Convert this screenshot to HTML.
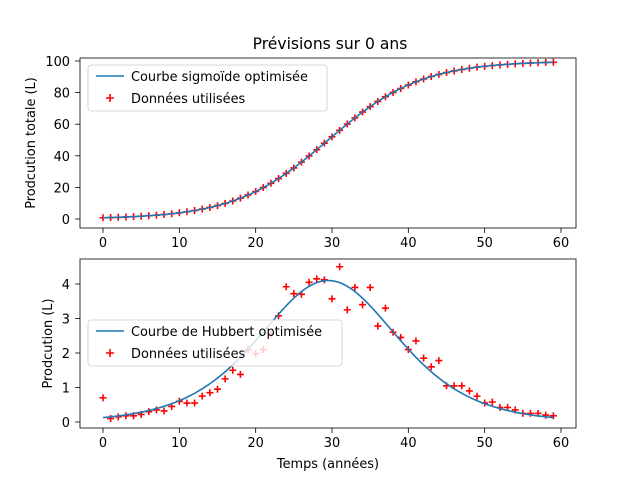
<!DOCTYPE html>
<html><head><meta charset="utf-8"><style>
body{margin:0;background:#fff;font-family:"Liberation Sans","DejaVu Sans",sans-serif}
svg text{font-family:"DejaVu Sans","Liberation Sans",sans-serif;fill:#000}
</style></head><body>
<svg id="c" width="640" height="480" xmlns="http://www.w3.org/2000/svg"></svg>
<script>
const years=[...Array(60).keys()];
const cumData=[0.79,0.93,1.09,1.28,1.5,1.77,2.08,2.44,2.86,3.35,3.92,4.59,5.36,6.26,7.3,8.49,9.85,11.4,13.2,15.2,17.4,19.9,22.6,25.6,28.9,32.3,36,39.9,43.9,48,52,56.1,60.1,64,67.7,71.1,74.4,77.4,80.1,82.6,84.8,86.8,88.6,90.2,91.5,92.7,93.7,94.6,95.4,96.1,96.6,97.1,97.5,97.9,98.2,98.5,98.7,98.9,99.1,99.2];
const prodData=[0.7,0.1,0.15,0.18,0.18,0.22,0.3,0.35,0.32,0.45,0.6,0.55,0.55,0.75,0.85,0.95,1.25,1.5,1.38,2.1,1.98,2.1,2.55,3.08,3.92,3.72,3.7,4.05,4.15,4.12,3.57,4.5,3.25,3.9,3.4,3.9,2.78,3.3,2.6,2.45,2.1,2.35,1.85,1.6,1.78,1.05,1.05,1.05,0.9,0.75,0.55,0.58,0.42,0.42,0.35,0.25,0.25,0.25,0.2,0.18];
const fitQ=[100], fitK=[0.164], fitT0=[29.5];
const xTicks=[0,10,20,30,40,50,60];
const yTicksTop=[0,20,40,60,80,100];
const yTicksBot=[0,1,2,3,4];
const svg=document.getElementById('c');
const NS='http://www.w3.org/2000/svg';
const FS=13.9;
function mk(t,a,p){const e=document.createElementNS(NS,t);for(const k in a)e.setAttribute(k,a[k]);(p||svg).appendChild(e);return e;}
const X=v=>103+(v/60)*458;
const Ytop=v=>219-v*1.58;
const Ybot=v=>422-v*34.5;
const sig=t=>fitQ[0]/(1+Math.exp(-fitK[0]*(t-fitT0[0])));
const hub=t=>{const e=Math.exp(-fitK[0]*(t-fitT0[0]));return fitQ[0]*fitK[0]*e/((1+e)*(1+e));};
function panel(name,top,bot,Y,yt,f,data,ylab,legLab,leg){
  const g=mk('g',{});
  
  
  mk('rect',{x:80,y:top,width:496,height:bot-top,fill:'#fff',stroke:'none'},g);
  data.forEach((v,i)=>{const x=X(years[i]),y=Y(v);
    const p=mk('path',{d:`M${x-3.5} ${y}H${x+3.5}M${x} ${y-3.5}V${y+3.5}`,stroke:'#f00','stroke-width':1.6},g);
    
    });
  let d='';for(let t=0;t<=59;t+=0.25)d+=(t?'L':'M')+X(t).toFixed(2)+' '+Y(f(t)).toFixed(2);
  const ln=mk('path',{d:d,fill:'none',stroke:'#1f77b4','stroke-width':1.6},g);
  
  
  mk('rect',{x:80,y:top,width:496,height:bot-top,fill:'none',stroke:'#000','stroke-width':0.8},g);
  xTicks.forEach(v=>{mk('line',{x1:X(v),x2:X(v),y1:bot,y2:bot+4.9,stroke:'#000','stroke-width':0.8},g);
    const t=mk('text',{x:X(v),y:bot+19,'font-size':FS*0.93,'text-anchor':'middle'},g);t.textContent=v;
    });
  yt.forEach(v=>{mk('line',{x1:75.1,x2:80,y1:Y(v),y2:Y(v),stroke:'#000','stroke-width':0.8},g);
    const t=mk('text',{x:70,y:Y(v)+5,'font-size':FS*0.93,'text-anchor':'end'},g);t.textContent=v;
    });
  const yl=mk('text',{x:0,y:0,'font-size':FS*0.93,'text-anchor':'middle',transform:`translate(${leg.yl},${(top+bot)/2}) rotate(-90)`},g);yl.textContent=ylab;
  
  const lg=mk('g',{},g);
  
  
  mk('rect',{x:88,y:leg.y,width:leg.w,height:46,rx:3,fill:'rgba(255,255,255,0.8)',stroke:'#ccc','stroke-width':0.8},lg);
  mk('line',{x1:96,x2:124,y1:leg.y+11,y2:leg.y+11,stroke:'#1f77b4','stroke-width':1.5},lg);
  const t1=mk('text',{x:131,y:leg.y+16,'font-size':FS*0.93},lg);t1.textContent=legLab;
  mk('path',{d:`M106 ${leg.y+33}h8M110 ${leg.y+29}v8`,stroke:'#f00','stroke-width':1.6},lg);
  const t2=mk('text',{x:131,y:leg.y+38,'font-size':FS*0.93},lg);t2.textContent='Données utilisées';
}
const title=mk('text',{x:330,y:49,'font-size':FS*1.12,'text-anchor':'middle'});title.textContent='Prévisions sur 0 ans';

panel('top-panel',58,228,Ytop,yTicksTop,sig,cumData,'Prodcution totale (L)','Courbe sigmoïde optimisée',{y:65,w:239,yl:35});
panel('bottom-panel',259,428,Ybot,yTicksBot,hub,prodData,'Prodcution (L)','Courbe de Hubbert optimisée',{y:320,w:254,yl:52});
const xl=mk('text',{x:328,y:468,'font-size':FS*0.93,'text-anchor':'middle'});xl.textContent='Temps (années)';

</script>
</body></html>
